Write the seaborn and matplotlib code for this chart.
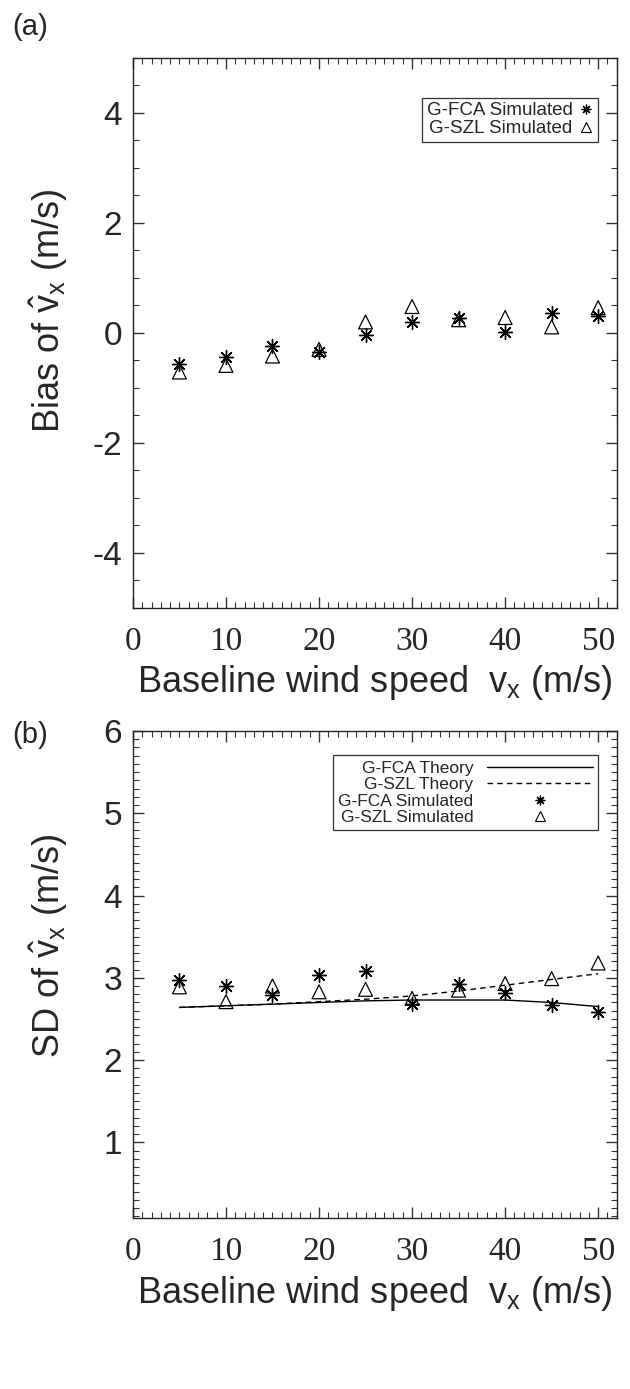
import pandas as pd
import matplotlib
matplotlib.use("Agg")
import matplotlib.pyplot as plt
from matplotlib.lines import Line2D
from matplotlib.ticker import MultipleLocator
import seaborn as sns

# wind speeds (m/s)
speeds = [5, 10, 15, 20, 25, 30, 35, 40, 45, 50]

# panel (a): bias of estimated v_x
bias_fca = [-0.56, -0.43, -0.24, -0.35, -0.04, 0.20, 0.28, 0.02, 0.36, 0.30]
bias_szl = [-0.71, -0.59, -0.42, -0.30, 0.20, 0.48, 0.24, 0.28, 0.11, 0.46]

# panel (b): standard deviation of estimated v_x
sd_fca_sim = [2.97, 2.90, 2.79, 3.04, 3.08, 2.68, 2.93, 2.81, 2.67, 2.59]
sd_szl_sim = [2.89, 2.71, 2.90, 2.83, 2.86, 2.75, 2.85, 2.93, 2.99, 3.18]
sd_fca_theory = [2.64, 2.66, 2.68, 2.70, 2.72, 2.73, 2.73, 2.73, 2.70, 2.65]
sd_szl_theory = [2.64, 2.66, 2.68, 2.71, 2.74, 2.78, 2.84, 2.91, 2.98, 3.05]

sns.set_theme(style="ticks")
plt.rcParams["font.family"] = ["Liberation Sans", "DejaVu Sans"]
plt.rcParams["mathtext.fontset"] = "custom"
plt.rcParams["mathtext.rm"] = "Liberation Sans"
plt.rcParams["mathtext.it"] = "Liberation Sans"
plt.rcParams["axes.unicode_minus"] = False

ast = (8, 2, 0)

df_a = pd.DataFrame({"speed": speeds, "fca": bias_fca, "szl": bias_szl})
df_b = pd.DataFrame({"speed": speeds, "fca": sd_fca_sim, "szl": sd_szl_sim,
                     "fca_th": sd_fca_theory, "szl_th": sd_szl_theory})

fig = plt.figure(figsize=(6.3, 13.89), dpi=100)
ax1 = fig.add_axes([0.211, 0.5623, 0.768, 0.3960])
ax2 = fig.add_axes([0.211, 0.1231, 0.768, 0.3506])

xlab = r"Baseline wind speed  v$_\mathrm{x}$ (m/s)"

def style_axis(ax):
    ax.set_xlim(0, 52)
    ax.xaxis.set_major_locator(MultipleLocator(10))
    ax.xaxis.set_minor_locator(MultipleLocator(1))
    ax.tick_params(which="both", direction="in", top=True, right=True, color="#333333")
    ax.tick_params(which="major", length=8, width=1)
    ax.tick_params(which="minor", length=4, width=0.8)
    ax.tick_params(axis="y", labelsize=24, pad=8)
    ax.tick_params(axis="x", labelsize=24, pad=13)
    for lab in ax.get_xticklabels():
        lab.set_family(["Liberation Serif"])
    for s in ax.spines.values():
        s.set_linewidth(1.0)
        s.set_color("#222222")
    ax.set_xlabel(xlab, fontsize=26, labelpad=5)

# panel (a)
sns.scatterplot(data=df_a, x="speed", y="fca", marker=ast, s=100, color="black",
                linewidth=1.0, ax=ax1, legend=False)
sns.scatterplot(data=df_a, x="speed", y="szl", marker="^", s=100, facecolor="none",
                edgecolor="black", linewidth=0.9, ax=ax1, legend=False)
ax1.set_ylim(-5, 5)
ax1.yaxis.set_major_locator(MultipleLocator(2))
ax1.yaxis.set_minor_locator(MultipleLocator(0.5))
style_axis(ax1)
ax1.set_ylabel(r"Bias of $\hat{\mathrm{v}}_\mathrm{x}$ (m/s)", fontsize=26)
ax1.yaxis.set_label_coords(-0.13, 0.54)
h_a = [Line2D([], [], ls="none", marker=ast, color="black", ms=7, mew=0.9),
       Line2D([], [], ls="none", marker="^", mfc="none", mec="black", ms=7, mew=0.8)]
leg = ax1.legend(h_a, ["G-FCA Simulated", "G-SZL Simulated"], loc="upper right",
                 markerfirst=False, fontsize=13.5, handlelength=0.8, handletextpad=0.3,
                 borderpad=0.25, labelspacing=0.05, frameon=True, fancybox=False,
                 bbox_to_anchor=(0.98, 0.945))
leg.get_frame().set_edgecolor("black")
leg.get_frame().set_linewidth(0.9)

# panel (b)
sns.lineplot(data=df_b, x="speed", y="fca_th", color="black", linewidth=1.0, ax=ax2)
sns.lineplot(data=df_b, x="speed", y="szl_th", color="black", linewidth=1.0,
             linestyle=(0, (4, 3)), ax=ax2)
sns.scatterplot(data=df_b, x="speed", y="fca", marker=ast, s=100, color="black",
                linewidth=1.0, ax=ax2, legend=False)
sns.scatterplot(data=df_b, x="speed", y="szl", marker="^", s=100, facecolor="none",
                edgecolor="black", linewidth=0.9, ax=ax2, legend=False)
ax2.set_ylim(0.08, 6)
ax2.yaxis.set_major_locator(MultipleLocator(1))
ax2.yaxis.set_minor_locator(MultipleLocator(0.1))
style_axis(ax2)
ax2.set_yticks([1, 2, 3, 4, 5, 6])
ax2.set_ylabel(r"SD of $\hat{\mathrm{v}}_\mathrm{x}$ (m/s)", fontsize=26)
ax2.yaxis.set_label_coords(-0.13, 0.56)
h_b = [Line2D([], [], color="black", lw=1.0),
       Line2D([], [], color="black", lw=1.0, ls=(0, (4, 3))),
       Line2D([], [], ls="none", marker=ast, color="black", ms=7, mew=0.9),
       Line2D([], [], ls="none", marker="^", mfc="none", mec="black", ms=7, mew=0.8)]
leg2 = ax2.legend(h_b, ["G-FCA Theory", "G-SZL Theory", "G-FCA Simulated", "G-SZL Simulated"],
                  loc="upper right", markerfirst=False, fontsize=12.5, handlelength=6.1,
                  handletextpad=0.8, borderpad=0.3, labelspacing=0.08, frameon=True,
                  fancybox=False, bbox_to_anchor=(0.98, 0.968))
leg2.get_frame().set_edgecolor("black")
leg2.get_frame().set_linewidth(0.9)

fig.text(0.02, 1 - 27 / 1389, "(a)", fontsize=21, va="center")
fig.text(0.02, 1 - 735 / 1389, "(b)", fontsize=21, va="center")

fig.savefig("out.png", dpi=100, facecolor="white")
